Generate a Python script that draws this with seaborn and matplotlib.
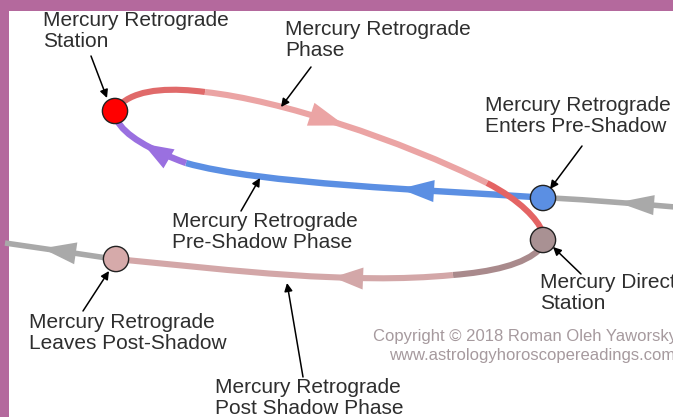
import numpy as np
import pandas as pd
import seaborn as sns
import matplotlib.pyplot as plt
from matplotlib.path import Path
from matplotlib.patches import PathPatch, Polygon, Rectangle

# all positions are in picture pixels, y pointing down
station_names = ["Retrograde Station", "Enters Pre-Shadow", "Direct Station", "Leaves Post-Shadow"]
station_x = [115, 543, 543, 116]
station_y = [111, 198, 240, 259]
station_colors = ["#ff0000", "#5b8fe3", "#a99193", "#d6aaaa"]

# cubic bezier control points for each piece of the path, in travel order
seg_points = [
    [(675, 207), (640, 204), (590, 200), (552, 198)],   # direct motion in
    [(533, 197), (430, 190), (260, 184), (186, 163)],   # pre-shadow
    [(186, 163), (150, 150), (124, 135), (117, 120)],   # pre-shadow end
    [(122, 103), (140, 88), (175, 88), (205, 92)],      # retrograde start
    [(205, 92), (280, 100), (400, 140), (487, 183)],    # retrograde
    [(487, 183), (520, 200), (538, 220), (542, 231)],   # retrograde end
    [(541, 248), (525, 265), (490, 272), (453, 275)],   # post-shadow start
    [(453, 275), (350, 285), (230, 270), (126, 260)],   # post-shadow
    [(107, 258), (80, 254), (40, 248), (5, 243)],       # direct motion out
]
seg_colors = ["#a9a9a9", "#5b8fe3", "#9a70e0", "#e06a6a", "#eba4a4",
              "#e46464", "#a98a8c", "#d3a7a8", "#a9a9a9"]
seg_widths = [4.0, 4.6, 4.6, 4.4, 4.4, 4.4, 4.4, 4.4, 4.0]
seg_order = [1, 2, 2, 3, 3, 3, 2, 2, 1]

# arrowheads along the path: segment, tip x, length, half width
head_seg = [0, 1, 2, 4, 7, 8]
head_x = [618, 400, 143, 345, 333, 42]
head_len = [36, 34, 30, 36, 30, 34]
head_half = [10, 11, 11, 12, 11, 11]

labels = ["Mercury Retrograde\nStation", "Mercury Retrograde\nPhase",
          "Mercury Retrograde\nEnters Pre-Shadow", "Mercury Retrograde\nPre-Shadow Phase",
          "Mercury Retrograde\nLeaves Post-Shadow", "Mercury Retrograde\nPost Shadow Phase",
          "Mercury Direct\nStation"]
label_x = [43, 285, 485, 172, 29, 215, 540]
label_y = [11, 20, 96, 212, 313, 378, 273]
pointer_from = [(91, 56), (311, 67), (582, 146), (241, 211), (83, 311), (303, 377), (581, 274)]
pointer_to = [(107, 98), (281, 107), (550, 189), (260, 178), (109, 271), (287, 283), (553, 247)]

copyright_lines = ["Copyright \u00a9 2018 Roman Oleh Yaworsky", "www.astrologyhoroscopereadings.com"]
copyright_y = [329, 348]


def bezier(p, t):
    p = np.asarray(p, dtype=float)
    t = np.atleast_1d(t)[:, None]
    pts = ((1 - t) ** 3) * p[0] + 3 * ((1 - t) ** 2) * t * p[1] + 3 * (1 - t) * t ** 2 * p[2] + t ** 3 * p[3]
    der = 3 * ((1 - t) ** 2) * (p[1] - p[0]) + 6 * (1 - t) * t * (p[2] - p[1]) + 3 * t ** 2 * (p[3] - p[2])
    return pts, der


sns.set_theme(style="white")
plt.rcParams['font.family'] = ['Liberation Sans', 'DejaVu Sans']

fig = plt.figure(figsize=(6.73, 4.17), dpi=100, facecolor="#b4699d")
ax = fig.add_axes([0, 0, 1, 1])
ax.set_xlim(0, 673)
ax.set_ylim(417, 0)
ax.axis('off')
ax.add_patch(Rectangle((9, 11), 680, 420, facecolor="white", edgecolor="none", zorder=0))

for pts, col, w, z in zip(seg_points, seg_colors, seg_widths, seg_order):
    path = Path(pts, [Path.MOVETO, Path.CURVE4, Path.CURVE4, Path.CURVE4])
    ax.add_patch(PathPatch(path, facecolor="none", edgecolor=col, lw=w,
                           capstyle="butt", zorder=z))

ts = np.linspace(0, 1, 400)
for s, hx, hl, hw in zip(head_seg, head_x, head_len, head_half):
    pts, der = bezier(seg_points[s], ts)
    i = np.argmin(np.abs(pts[:, 0] - hx))
    tip = pts[i]
    d = der[i] / np.linalg.norm(der[i])
    n = np.array([-d[1], d[0]])
    base = tip - d * hl
    tri = [tip, base + n * hw, base - n * hw]
    ax.add_patch(Polygon(tri, closed=True, facecolor=seg_colors[s], edgecolor="none",
                         zorder=seg_order[s]))

stations = pd.DataFrame({"name": station_names, "x": station_x, "y": station_y})
sns.scatterplot(data=stations, x="x", y="y", hue="name", palette=station_colors,
                s=330, edgecolor="#222222", linewidth=1.0, legend=False, ax=ax, zorder=5)
ax.set_xlim(0, 673)
ax.set_ylim(417, 0)

for txt, lx, ly in zip(labels, label_x, label_y):
    ax.text(lx, ly, txt, fontsize=15, color="#2e2e2e", ha="left", va="top", linespacing=1.12)

for a, b in zip(pointer_from, pointer_to):
    ax.annotate("", xy=b, xytext=a,
                arrowprops=dict(arrowstyle="-|>", color="black", lw=1.1,
                                mutation_scale=12, shrinkA=0, shrinkB=0), zorder=6)

ax.text(677, copyright_y[0], copyright_lines[0], fontsize=12, color="#a69a9e", ha="right", va="top")
ax.text(675, copyright_y[1], copyright_lines[1], fontsize=12, color="#a69a9e", ha="right", va="top")

fig.savefig("out.png", dpi=100, facecolor=fig.get_facecolor())
